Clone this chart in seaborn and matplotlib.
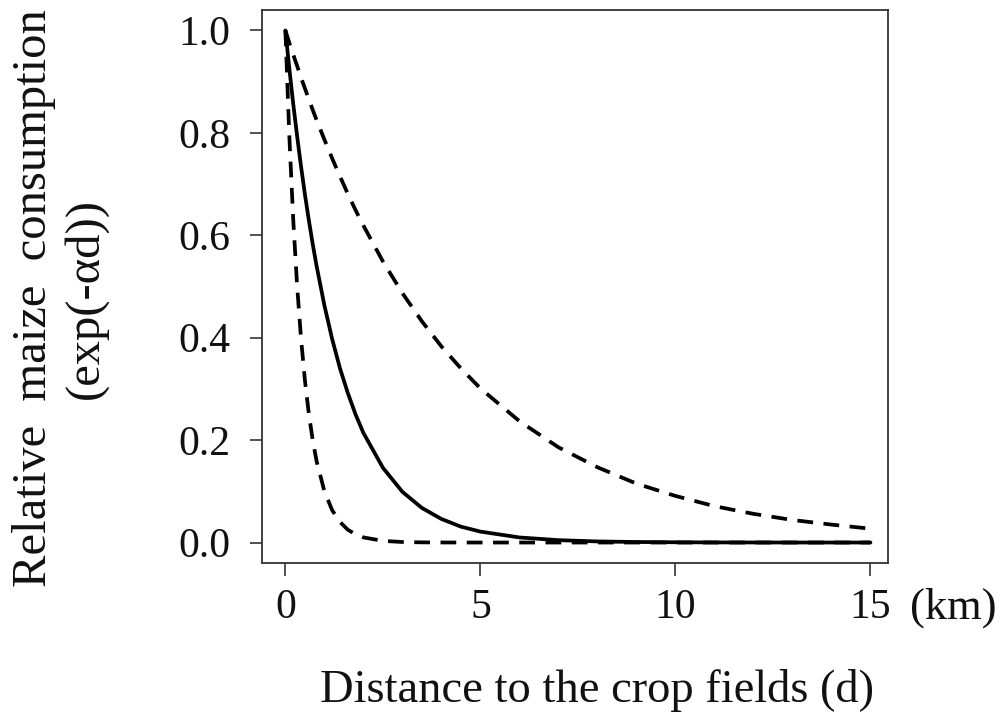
import numpy as np
import pandas as pd
import matplotlib
matplotlib.use("Agg")
import matplotlib.pyplot as plt
import seaborn as sns

# distance grid (km) and read-off relative consumption for three curves
distance = [0, 0.1, 0.2, 0.3, 0.4, 0.5, 0.6, 0.7, 0.8, 1.0, 1.2, 1.4, 1.6, 1.8, 2.0,
            2.5, 3.0, 3.5, 4.0, 4.5, 5, 6, 7, 8, 9, 10, 11, 12, 13, 14, 15]
steep_dashed = [1.0, 0.795, 0.631, 0.502, 0.399, 0.317, 0.252, 0.200, 0.159, 0.100, 0.063,
                0.040, 0.025, 0.016, 0.010, 0.0032, 0.0010, 0.0003, 0.0001, 0.0, 0.0,
                0.0, 0.0, 0.0, 0.0, 0.0, 0.0, 0.0, 0.0, 0.0, 0.0]
middle_solid = [1.0, 0.926, 0.857, 0.794, 0.735, 0.680, 0.630, 0.583, 0.540, 0.463, 0.397,
                0.340, 0.292, 0.250, 0.214, 0.146, 0.099, 0.0675, 0.046, 0.031, 0.0213,
                0.0099, 0.0046, 0.0021, 0.001, 0.0005, 0.0002, 0.0001, 0.0, 0.0, 0.0]
flat_dashed = [1.0, 0.976, 0.953, 0.931, 0.908, 0.887, 0.866, 0.845, 0.825, 0.787, 0.750,
               0.715, 0.681, 0.649, 0.619, 0.549, 0.487, 0.432, 0.383, 0.340, 0.301,
               0.237, 0.186, 0.147, 0.115, 0.091, 0.071, 0.056, 0.044, 0.035, 0.027]
series_names = ["steep", "middle", "flat"]
x_ticks = [0, 5, 10, 15]
y_ticks = [0.0, 0.2, 0.4, 0.6, 0.8, 1.0]

df = pd.DataFrame({
    "d": distance * 3,
    "value": steep_dashed + middle_solid + flat_dashed,
    "curve": sum([[n] * len(distance) for n in series_names], []),
})

sns.set_theme(style="white")
plt.rcParams["font.family"] = ["Liberation Serif", "DejaVu Serif"]

fig = plt.figure(figsize=(10.08, 7.22), dpi=100)
ax = fig.add_axes([262 / 1008, 1 - 563 / 722, (888 - 262) / 1008, (563 - 10) / 722])

sns.lineplot(data=df, x="d", y="value", hue="curve", style="curve",
             palette={"steep": "black", "middle": "black", "flat": "black"},
             dashes={"steep": (4.2, 2.8), "middle": "", "flat": (4.2, 2.8)},
             linewidth=2.7, legend=False, ax=ax, sort=True)

ax.set_xlim(-0.6, 15.45)
ax.set_ylim(-0.04, 1.04)
ax.set_xticks(x_ticks)
ax.set_xticklabels([str(t) for t in x_ticks])
ax.set_yticks(y_ticks)
ax.set_yticklabels([f"{t:.1f}" for t in y_ticks])
ax.set_xlabel("")
ax.set_ylabel("")
for s in ax.spines.values():
    s.set_color("#333333")
    s.set_linewidth(1.3)
ax.tick_params(axis="both", direction="out", length=9, width=1.2, color="#333333",
               labelsize=30, labelcolor="#111111", bottom=True, left=True)
ax.tick_params(axis="y", pad=14)
ax.tick_params(axis="x", pad=9)

ax.annotate("(km)", xy=(15, 0), xycoords=("data", "axes fraction"),
            xytext=(60, -18), textcoords="offset points",
            ha="center", va="top", fontsize=32, color="#111111", annotation_clip=False)

fig.text(597 / 1008, 1 - 702 / 722, "Distance to the crop fields (d)",
         ha="center", va="baseline", fontsize=33.5, color="#111111")
fig.text(60 / 1008, 1 - 298 / 722, "Relative  maize  consumption\n(exp(-αd))",
         ha="center", va="center", rotation=90, fontsize=35, color="#111111",
         linespacing=1.18, multialignment="center")

fig.savefig("out.png", dpi=100)
